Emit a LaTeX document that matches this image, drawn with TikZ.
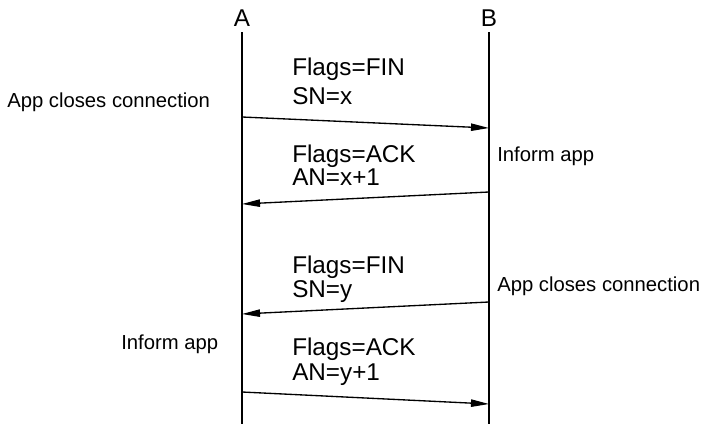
\documentclass[tikz,border=0pt]{standalone}
\usepackage{fontspec}
\setmainfont{Liberation Sans}
\usetikzlibrary{arrows.meta}
\begin{document}
\begin{tikzpicture}[x=0.75pt,y=-0.75pt,
  big/.style={font=\fontsize{18.2pt}{20pt}\selectfont, inner sep=0pt, anchor=base west},
  small/.style={font=\fontsize{15.2pt}{17pt}\selectfont, inner sep=0pt, anchor=base west},
  head/.style={font=\fontsize{18.2pt}{20pt}\selectfont, inner sep=0pt, anchor=base},
  lifeline/.style={line width=1.4pt},
  msg/.style={line width=1pt, -{Triangle[length=13.5pt,width=5.5pt]}}]
\useasboundingbox (0,0) rectangle (703,425);
% headers
\node[head] (A) at (242,26) {A};
\node[head] (B) at (489,26) {B};
% lifelines
\coordinate (Atop) at (242,32);
\coordinate (Abot) at (242,424);
\coordinate (Btop) at (489,32);
\coordinate (Bbot) at (489,424);
\draw[lifeline] (Atop) -- (Abot);
\draw[lifeline] (Btop) -- (Bbot);
% message endpoints
\coordinate (a1) at (242,117);
\coordinate (b1) at (489,128);
\coordinate (b2) at (489,192);
\coordinate (a2) at (242,204);
\coordinate (b3) at (489,302);
\coordinate (a3) at (242,314);
\coordinate (a4) at (242,392);
\coordinate (b4) at (489,404);
\draw[msg] (a1) -- (b1);
\draw[msg] (b2) -- (a2);
\draw[msg] (b3) -- (a3);
\draw[msg] (a4) -- (b4);
% message labels
\node[big] (m1a) at (292,75) {Flags=FIN};
\node[big] (m1b) at (292,104) {SN=x};
\node[big] (m2a) at (292,162) {Flags=ACK};
\node[big] (m2b) at (292,185) {AN=x+1};
\node[big] (m3a) at (292,273) {Flags=FIN};
\node[big] (m3b) at (292,297) {SN=y};
\node[big] (m4a) at (292,355) {Flags=ACK};
\node[big] (m4b) at (292,380) {AN=y+1};
% side labels
\node[small] (s1) at (7,107) {App closes connection};
\node[small] (s2) at (497,161) {Inform app};
\node[small] (s3) at (497,291) {App closes connection};
\node[small] (s4) at (121,349) {Inform app};
\end{tikzpicture}
\end{document}
